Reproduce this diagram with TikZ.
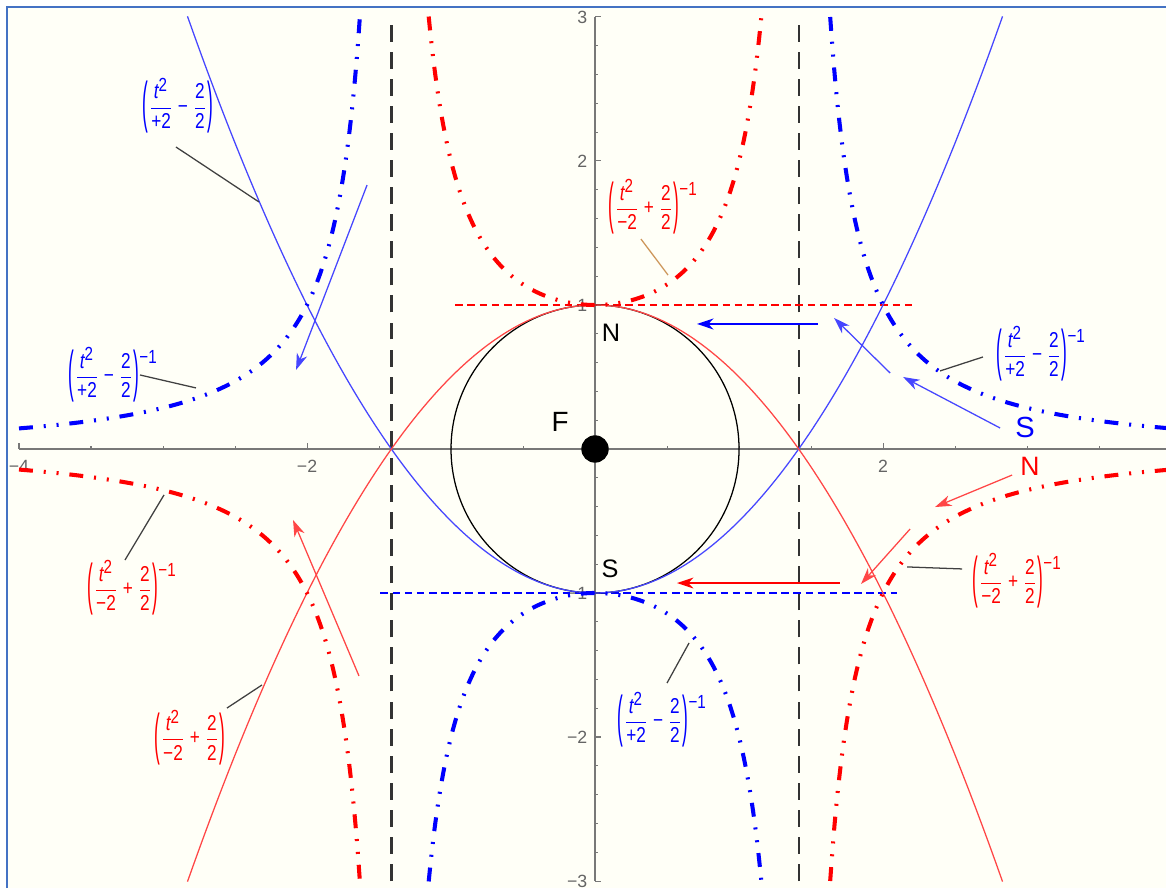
\documentclass[tikz,border=0pt]{standalone}
\usepackage{fontspec}
\usepackage{graphicx}
\setmainfont{Liberation Sans}
\newfontfamily\labfont[FakeStretch=0.8]{Liberation Sans}
\usetikzlibrary{arrows.meta}
\definecolor{cream}{RGB}{255,255,247}
\definecolor{frameblue}{RGB}{68,114,196}
\definecolor{axgray}{RGB}{120,120,120}
\definecolor{tickgray}{RGB}{100,100,100}
\definecolor{lblue}{RGB}{70,70,255}
\definecolor{lred}{RGB}{255,70,70}
\definecolor{calltan}{RGB}{205,150,90}
\newcommand{\supsz}{\fontsize{7.5}{8}\selectfont}
\newcommand{\lpar}{\raisebox{-3.3pt}{\scalebox{1}[2.6]{(}}}
\newcommand{\rpar}{\raisebox{-3.3pt}{\scalebox{1}[2.6]{)}}}
\newcommand{\fracbody}[2]{\lpar$\displaystyle{\mbox{\itshape t}^{\mbox{\supsz 2}}\over\mbox{#1}}$\hspace{1.6pt}#2\hspace{1.6pt}$\displaystyle{\mbox{2}\over\mbox{2}}$\rpar}
\newcommand{\plab}[2]{\fracbody{#1}{#2}}
\newcommand{\rlab}[2]{\fracbody{#1}{#2}\raisebox{7.4pt}{\supsz −1}}
\begin{document}
\begin{tikzpicture}[x=2cm,y=2cm,
  thinblue/.style={draw=lblue, line width=0.5pt},
  thinred/.style={draw=lred, line width=0.5pt},
  bluedd/.style={draw=blue, line width=1.6pt, dash pattern=on 5.5pt off 4.3pt on 0.8pt off 4.3pt on 0.8pt off 4.3pt},
  reddd/.style={draw=red, line width=1.6pt, dash pattern=on 5.5pt off 4.3pt on 0.8pt off 4.3pt on 0.8pt off 4.3pt},
  vdash/.style={draw=black!80, line width=0.9pt, dash pattern=on 6.7pt off 4pt},
  hdash/.style={line width=0.45pt, dash pattern=on 3pt off 1.8pt},
  arr/.style={-{Stealth[length=6.5pt,width=4.3pt,inset=2pt]}, line width=0.5pt},
  callout/.style={draw=black!75, line width=0.5pt},
  flab/.style={anchor=west, inner sep=0pt, font=\labfont\fontsize{8.5}{10}\selectfont},
  ticklab/.style={font=\fontsize{7}{8}\selectfont, text=tickgray, inner sep=0pt},
  ptlab/.style={font=\fontsize{10}{12}\selectfont, inner sep=0pt}]
\useasboundingbox (-4.132,-3.049) rectangle (3.965,3.118);
\fill[white] (-4.132,-3.049) rectangle (3.965,3.118);
\fill[cream] (-4.083,-3.049) rectangle (3.965,3.069);
\draw[frameblue, line width=0.8pt] (-4.083,-3.049) -- (-4.083,3.069) -- (3.965,3.069);

% axes
\draw[axgray, line width=0.45pt] (-4,0) -- (3.965,0);
\draw[axgray, line width=0.45pt] (0,-3) -- (0,3);
\foreach \i in {-8,...,7} \draw[axgray, line width=0.4pt] (\i/2,0) -- (\i/2,0.024);
\foreach \i in {-4,-2,2} \draw[axgray, line width=0.4pt] (\i,0) -- (\i,0.042);
\foreach \i in {-15,...,15} \draw[axgray, line width=0.4pt] (0,\i/5) -- (0.024,\i/5);
\foreach \i in {-3,...,3} \draw[axgray, line width=0.4pt] (0,\i) -- (0.042,\i);
\node[ticklab] (xtm4) at (-4,-0.12) {−4};
\node[ticklab] (xtm2) at (-2,-0.12) {−2};
\node[ticklab] (xt2) at (2,-0.12) {2};
\foreach \i in {1,2,3} \node[ticklab, anchor=east] (yt\i) at (-0.05,\i) {\i};
\foreach \i in {1,2,3} \node[ticklab, anchor=east] (ytm\i) at (-0.05,-\i) {−\i};

% dashed guides
\draw[vdash] (-1.4142,-3) -- (-1.4142,3);
\draw[vdash] (1.4142,-3) -- (1.4142,3);
\draw[hdash, draw=red] (-0.97,1) -- (2.2,1);
\draw[hdash, draw=blue] (-1.49,-1) -- (2.1,-1);

% circle and focus
\draw[black, line width=0.5pt] (0,0) circle (1);
\fill[black] (0,0) circle (0.095);

\begin{scope}
\clip (-4.1,-3) rectangle (4.2,3);
\draw[thinblue] plot[domain=-2.83:2.83, samples=120, smooth] (\x,{\x*\x/2-1});
\draw[thinred] plot[domain=-2.83:2.83, samples=120, smooth] (\x,{1-\x*\x/2});
\draw[bluedd] plot[domain=-4:-1.633, samples=150, smooth] (\x,{1/(\x*\x/2-1)});
\draw[bluedd] plot[domain=1.633:4, samples=150, smooth] (\x,{1/(\x*\x/2-1)});
\draw[bluedd] plot[domain=-1.155:1.155, samples=150, smooth] (\x,{1/(\x*\x/2-1)});
\draw[reddd] plot[domain=-4:-1.633, samples=150, smooth] (\x,{1/(1-\x*\x/2)});
\draw[reddd] plot[domain=1.633:4, samples=150, smooth] (\x,{1/(1-\x*\x/2)});
\draw[reddd] plot[domain=-1.155:1.155, samples=150, smooth] (\x,{1/(1-\x*\x/2)});
\end{scope}

% point labels
\node[ptlab] (N) at (0.111,0.806) {N};
\node[ptlab] (S) at (0.104,-0.833) {S};
\node[ptlab, font=\fontsize{11}{12}\selectfont] (F) at (-0.243,0.188) {F};
\node[ptlab, font=\fontsize{11.5}{13}\selectfont, text=blue] (Sb) at (2.986,0.146) {S};
\node[ptlab, font=\fontsize{10.5}{12}\selectfont, text=red] (Nr) at (3.021,-0.118) {N};

% arrows
\coordinate (a1s) at (1.549,0.868); \coordinate (a1e) at (0.708,0.868);
\coordinate (a2s) at (2.049,0.528); \coordinate (a2e) at (1.660,0.910);
\coordinate (a3s) at (2.8125,0.146); \coordinate (a3e) at (2.139,0.5);
\coordinate (a4s) at (2.896,-0.181); \coordinate (a4e) at (2.361,-0.403);
\coordinate (a5s) at (2.1875,-0.556); \coordinate (a5e) at (1.847,-0.9375);
\coordinate (a6s) at (1.701,-0.931); \coordinate (a6e) at (0.569,-0.931);
\coordinate (a7s) at (-1.583,1.833); \coordinate (a7e) at (-2.076,0.549);
\coordinate (a8s) at (-1.639,-1.576); \coordinate (a8e) at (-2.097,-0.493);
\draw[arr, blue, line width=0.8pt] (a1s) -- (a1e);
\draw[arr, lblue] (a2s) -- (a2e);
\draw[arr, lblue] (a3s) -- (a3e);
\draw[arr, lred] (a4s) -- (a4e);
\draw[arr, lred] (a5s) -- (a5e);
\draw[arr, red, line width=0.6pt] (a6s) -- (a6e);
\draw[arr, lblue] (a7s) -- (a7e);
\draw[arr, lred] (a8s) -- (a8e);

% formula labels
\node[flab, text=blue] (La) at (-3.146,2.385) {\plab{+2}{−}};
\node[flab, text=blue] (Lb) at (-3.660,0.514) {\rlab{+2}{−}};
\node[flab, text=red] (Lc) at (-3.528,-0.965) {\rlab{−2}{+}};
\node[flab, text=red] (Ld) at (-3.063,-2.003) {\plab{−2}{+}};
\node[flab, text=red] (Le) at (0.090,1.681) {\rlab{−2}{+}};
\node[flab, text=blue] (Lf) at (2.785,0.660) {\rlab{+2}{−}};
\node[flab, text=red] (Lg) at (2.618,-0.917) {\rlab{−2}{+}};
\node[flab, text=blue] (Lh) at (0.153,-1.882) {\rlab{+2}{−}};

% callouts
\coordinate (ca1) at (-2.91,2.097); \coordinate (ca2) at (-2.333,1.715);
\coordinate (cb1) at (-3.16,0.514); \coordinate (cb2) at (-2.771,0.424);
\coordinate (cc1) at (-3.264,-0.771); \coordinate (cc2) at (-2.993,-0.319);
\coordinate (cd1) at (-2.556,-1.799); \coordinate (cd2) at (-2.313,-1.639);
\coordinate (ce1) at (0.319,1.458); \coordinate (ce2) at (0.507,1.208);
\coordinate (cf1) at (2.694,0.639); \coordinate (cf2) at (2.396,0.542);
\coordinate (cg1) at (2.549,-0.833); \coordinate (cg2) at (2.167,-0.819);
\coordinate (ch1) at (0.5,-1.625); \coordinate (ch2) at (0.653,-1.347);
\draw[callout] (ca1) -- (ca2);
\draw[callout] (cb1) -- (cb2);
\draw[callout] (cc1) -- (cc2);
\draw[callout] (cd1) -- (cd2);
\draw[callout, draw=calltan] (ce1) -- (ce2);
\draw[callout] (cf1) -- (cf2);
\draw[callout] (cg1) -- (cg2);
\draw[callout] (ch1) -- (ch2);
\end{tikzpicture}
\end{document}
